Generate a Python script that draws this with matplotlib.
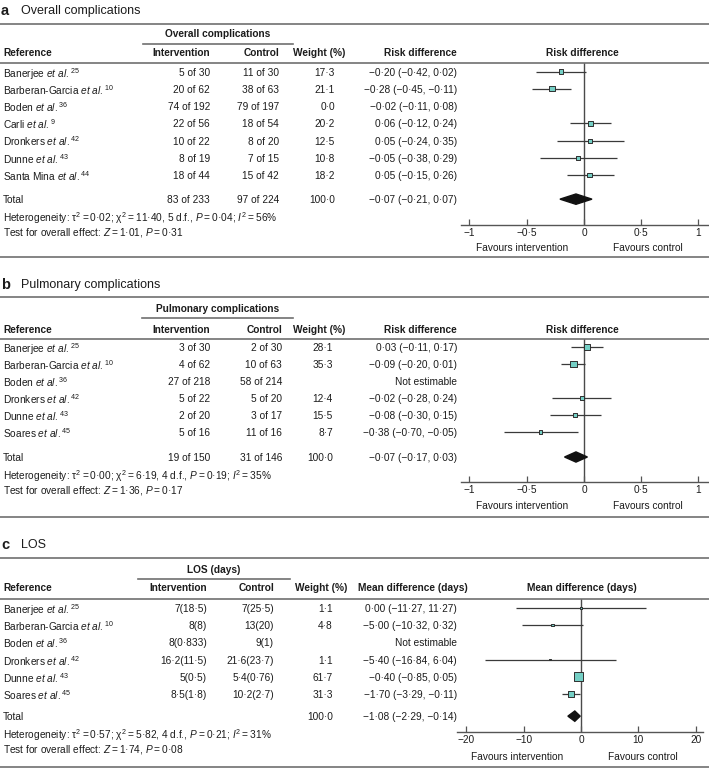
import numpy as np
import matplotlib
matplotlib.use("Agg")
import matplotlib.pyplot as plt
import matplotlib.transforms as mtransforms
from matplotlib.lines import Line2D
from matplotlib.ticker import FuncFormatter

plt.rcParams['font.family'] = ['Liberation Sans', 'DejaVu Sans']
plt.rcParams['mathtext.fontset'] = 'custom'
plt.rcParams['mathtext.rm'] = 'Liberation Sans'
plt.rcParams['mathtext.it'] = 'Liberation Sans:italic'
plt.rcParams['mathtext.bf'] = 'Liberation Sans:bold'

# ---- panel a: overall complications ----
a_names = ["Banerjee", "Barberan-Garcia", "Boden", "Carli", "Dronkers", "Dunne", "Santa Mina"]
a_refs = [25, 10, 36, 9, 42, 43, 44]
a_int_events = [5, 20, 74, 22, 10, 8, 18]
a_int_n = [30, 62, 192, 56, 22, 19, 44]
a_ctl_events = [11, 38, 79, 18, 8, 7, 15]
a_ctl_n = [30, 63, 197, 54, 20, 15, 42]
a_weight = [17.3, 21.1, 0.0, 20.2, 12.5, 10.8, 18.2]
a_est = [-0.20, -0.28, -0.02, 0.06, 0.05, -0.05, 0.05]
a_lo = [-0.42, -0.45, -0.11, -0.12, -0.24, -0.38, -0.15]
a_hi = [0.02, -0.11, 0.08, 0.24, 0.35, 0.29, 0.26]
a_total = ("83 of 233", "97 of 224", 100.0, -0.07, -0.21, 0.07)
a_het = "Heterogeneity: τ$^2$\u2009=\u20090·02; χ$^2$\u2009=\u200911·40, 5 d.f., $\\mathit{P}$\u2009=\u20090·04; $\\mathit{I}^2$\u2009=\u200956%"
a_test = "Test for overall effect: $\\mathit{Z}$\u2009=\u20091·01, $\\mathit{P}$\u2009=\u20090·31"
a_ticks = [-1, -0.5, 0, 0.5, 1]

# ---- panel b: pulmonary complications ----
b_names = ["Banerjee", "Barberan-Garcia", "Boden", "Dronkers", "Dunne", "Soares"]
b_refs = [25, 10, 36, 42, 43, 45]
b_int_events = [3, 4, 27, 5, 2, 5]
b_int_n = [30, 62, 218, 22, 20, 16]
b_ctl_events = [2, 10, 58, 5, 3, 11]
b_ctl_n = [30, 63, 214, 20, 17, 16]
b_weight = [28.1, 35.3, np.nan, 12.4, 15.5, 8.7]
b_est = [0.03, -0.09, np.nan, -0.02, -0.08, -0.38]
b_lo = [-0.11, -0.20, np.nan, -0.28, -0.30, -0.70]
b_hi = [0.17, 0.01, np.nan, 0.24, 0.15, -0.05]
b_total = ("19 of 150", "31 of 146", 100.0, -0.07, -0.17, 0.03)
b_het = "Heterogeneity: τ$^2$\u2009=\u20090·00; χ$^2$\u2009=\u20096·19, 4 d.f., $\\mathit{P}$\u2009=\u20090·19; $\\mathit{I}^2$\u2009=\u200935%"
b_test = "Test for overall effect: $\\mathit{Z}$\u2009=\u20091·36, $\\mathit{P}$\u2009=\u20090·17"
b_ticks = [-1, -0.5, 0, 0.5, 1]

# ---- panel c: LOS ----
c_names = ["Banerjee", "Barberan-Garcia", "Boden", "Dronkers", "Dunne", "Soares"]
c_refs = [25, 10, 36, 42, 43, 45]
c_int_mean = [7, 8, 8, 16.2, 5, 8.5]
c_int_sd = [18.5, 8, 0.833, 11.5, 0.5, 1.8]
c_ctl_mean = [7, 13, 9, 21.6, 5.4, 10.2]
c_ctl_sd = [25.5, 20, 1, 23.7, 0.76, 2.7]
c_weight = [1.1, 4.8, np.nan, 1.1, 61.7, 31.3]
c_est = [0.00, -5.00, np.nan, -5.40, -0.40, -1.70]
c_lo = [-11.27, -10.32, np.nan, -16.84, -0.85, -3.29]
c_hi = [11.27, 0.32, np.nan, 6.04, 0.05, -0.11]
c_total = ("", "", 100.0, -1.08, -2.29, -0.14)
c_het = "Heterogeneity: τ$^2$\u2009=\u20090·57; χ$^2$\u2009=\u20095·82, 4 d.f., $\\mathit{P}$\u2009=\u20090·21; $\\mathit{I}^2$\u2009=\u200931%"
c_test = "Test for overall effect: $\\mathit{Z}$\u2009=\u20091·74, $\\mathit{P}$\u2009=\u20090·08"
c_ticks = [-20, -10, 0, 10, 20]

W, H = 709, 768
FS = 7.3
TXT = '#1c1c1c'
RULE = '#707070'
FILL = '#74cfc5'


def dot(s):
    return s.replace('-', '\u2212').replace('.', '·')


def num(v):
    return dot(f"{v:.2f}")


def effect(e, l, h):
    if np.isnan(e):
        return "Not estimable"
    return f"{num(e)} ({num(l)}, {num(h)})"


def fx(x):
    return x / W


def fy(y):
    return 1 - y / H


fig = plt.figure(figsize=(W / 100, H / 100), dpi=100)


def rule(x0, x1, y, lw=1.2):
    fig.add_artist(Line2D([fx(x0), fx(x1)], [fy(y), fy(y)], transform=fig.transFigure,
                          color=RULE, lw=lw))


def panel(letter, title, group, eff_head, forest_head, names, refs, int_col, ctl_col,
          weight, est, lo, hi, total, het, test, ticks, lay):
    n = len(names)
    rows = np.arange(n)
    ytot = n - 1 + lay['tot_gap']
    # title and rules
    fig.text(fx(1), fy(lay['title']), letter, fontsize=10.5, fontweight='bold', color=TXT,
             va='center', ha='left')
    fig.text(fx(21), fy(lay['title']), title, fontsize=9, color=TXT, va='center', ha='left')
    rule(0, W, lay['top'])
    rule(lay['ul'][0], lay['ul'][1], lay['ul_y'])
    rule(0, W, lay['hdr_rule'])
    rule(0, W, lay['bottom'])
    cx = lay['cols']
    fig.text(fx((lay['ul'][0] + lay['ul'][1]) / 2), fy(lay['grp']), group, fontsize=FS,
             fontweight='bold', color=TXT, ha='center', va='center')
    hy = fy(lay['hdr'])
    fig.text(fx(3), hy, "Reference", fontsize=FS, fontweight='bold', color=TXT, va='center')
    fig.text(fx(cx['int']), hy, "Intervention", fontsize=FS, fontweight='bold', color=TXT,
             va='center', ha='right')
    fig.text(fx(cx['ctl']), hy, "Control", fontsize=FS, fontweight='bold', color=TXT,
             va='center', ha='right')
    fig.text(fx(cx['wh']), hy, "Weight (%)", fontsize=FS, fontweight='bold', color=TXT,
             va='center', ha='right')
    if lay.get('eff_left'):
        fig.text(fx(lay['eff_left']), hy, eff_head, fontsize=FS, fontweight='bold', color=TXT,
                 va='center', ha='left')
    else:
        fig.text(fx(cx['eff']), hy, eff_head, fontsize=FS, fontweight='bold', color=TXT,
                 va='center', ha='right')
    fig.text(fx(582), hy, forest_head, fontsize=FS, fontweight='bold', color=TXT,
             va='center', ha='center')

    # forest axes
    x0, x1 = lay['ax_x']
    y0, y1 = lay['ax_y']
    ax = fig.add_axes([fx(x0), fy(y1), fx(x1) - fx(x0), (y1 - y0) / H])
    ax.set_xlim(lay['xlim'])
    ax.set_ylim(lay['ylim'])
    ax.patch.set_alpha(0)
    for s in ['left', 'right', 'top']:
        ax.spines[s].set_visible(False)
    ax.spines['bottom'].set_color('#555555')
    ax.spines['bottom'].set_linewidth(1.0)
    ax.set_yticks([])
    ax.set_xticks(ticks)
    ax.xaxis.set_major_formatter(FuncFormatter(lambda v, p: dot(f"{v:g}")))
    ax.tick_params(axis='x', direction='in', length=4, width=0.9, color='#555555',
                   labelsize=FS, labelcolor=TXT, pad=2)
    ax.axvline(0, color='#4a4a4a', lw=1.0, zorder=1)

    w = np.array(weight, dtype=float)
    e = np.array(est, dtype=float)
    l = np.array(lo, dtype=float)
    h = np.array(hi, dtype=float)
    ok = w > 0
    ax.hlines(rows[ok], l[ok], h[ok], color='#3a3a3a', lw=0.9, zorder=2)
    side = np.maximum(1.15 * np.sqrt(w[ok]), 1.3) * 0.72
    ax.scatter(e[ok], rows[ok], s=side ** 2, marker='s', facecolor=FILL,
               edgecolor='#2f2f2f', linewidths=0.7, zorder=3)
    te, tl, th = total[3], total[4], total[5]
    ax.fill([tl, te, th, te], [ytot, ytot - 0.3, ytot, ytot + 0.3], color='#111111',
            zorder=3)
    ax.annotate("Favours intervention", xy=(lay['fav'][0], 0), xycoords=('data', 'axes fraction'),
                xytext=(0, -lay['fav_dy'] * 0.72), textcoords='offset points',
                ha='center', va='center', fontsize=FS, color=TXT)
    ax.annotate("Favours control", xy=(lay['fav'][1], 0), xycoords=('data', 'axes fraction'),
                xytext=(0, -lay['fav_dy'] * 0.72), textcoords='offset points',
                ha='center', va='center', fontsize=FS, color=TXT)

    # table rows, y through the forest axes' scale
    tr = mtransforms.blended_transform_factory(fig.transFigure, ax.transData)
    kw = dict(transform=tr, fontsize=FS, color=TXT, va='center_baseline')
    for i in range(n):
        ax.text(fx(3), rows[i], f"{names[i]} $\\mathit{{et\\ al.}}^{{{refs[i]}}}$",
                ha='left', **kw)
        ax.text(fx(cx['int']), rows[i], int_col[i], ha='right', **kw)
        ax.text(fx(cx['ctl']), rows[i], ctl_col[i], ha='right', **kw)
        wt = "" if np.isnan(w[i]) else dot(f"{w[i]:.1f}")
        ax.text(fx(cx['wt']), rows[i], wt, ha='right', **kw)
        ax.text(fx(cx['eff']), rows[i], effect(e[i], l[i], h[i]), ha='right', **kw)
    ax.text(fx(3), ytot, "Total", ha='left', **kw)
    ax.text(fx(cx['int']), ytot, total[0], ha='right', **kw)
    ax.text(fx(cx['ctl']), ytot, total[1], ha='right', **kw)
    ax.text(fx(cx['wt']), ytot, dot(f"{total[2]:.1f}"), ha='right', **kw)
    ax.text(fx(cx['eff']), ytot, effect(te, tl, th), ha='right', **kw)
    ax.text(fx(3), ytot + 1.0, het, ha='left', **kw)
    ax.text(fx(3), ytot + 1.85, test, ha='left', **kw)


def fmt_of(ev, nn):
    return [f"{a} of {b}" for a, b in zip(ev, nn)]


def fmt_msd(m, sd):
    return [dot(f"{a:g}({b:g})") for a, b in zip(m, sd)]


lay_a = dict(title=11, top=24, grp=34, ul=(143, 293), ul_y=44, hdr=53, hdr_rule=63,
             bottom=257, ax_x=(461, 708), ax_y=(63, 225), xlim=(-1.074, 1.083),
             ylim=(8.9, -0.5), tot_gap=1.4, fav=(-0.54, 0.56), fav_dy=23,
             cols=dict(int=210, ctl=279, wt=335, wh=345, eff=457))
lay_b = dict(title=285, top=297, grp=309, ul=(142, 293), ul_y=318, hdr=330, hdr_rule=339,
             bottom=517, ax_x=(461, 708), ax_y=(339, 482), xlim=(-1.074, 1.083),
             ylim=(7.94, -0.47), tot_gap=1.47, fav=(-0.54, 0.56), fav_dy=24,
             cols=dict(int=210, ctl=282, wt=333, wh=345, eff=457))
lay_c = dict(title=545, top=558, grp=570, ul=(138, 290), ul_y=579, hdr=588, hdr_rule=599,
             bottom=767, ax_x=(457, 703), ax_y=(599, 732), xlim=(-21.64, 21.29),
             ylim=(7.2, -0.52), tot_gap=1.28, fav=(-11.2, 10.8), fav_dy=25,
             cols=dict(int=207, ctl=274, wt=333, wh=347, eff=457), eff_left=358)

panel("a", "Overall complications", "Overall complications", "Risk difference",
      "Risk difference", a_names, a_refs, fmt_of(a_int_events, a_int_n),
      fmt_of(a_ctl_events, a_ctl_n), a_weight, a_est, a_lo, a_hi, a_total, a_het, a_test,
      a_ticks, lay_a)
panel("b", "Pulmonary complications", "Pulmonary complications", "Risk difference",
      "Risk difference", b_names, b_refs, fmt_of(b_int_events, b_int_n),
      fmt_of(b_ctl_events, b_ctl_n), b_weight, b_est, b_lo, b_hi, b_total, b_het, b_test,
      b_ticks, lay_b)
panel("c", "LOS", "LOS (days)", "Mean difference (days)", "Mean difference (days)",
      c_names, c_refs, fmt_msd(c_int_mean, c_int_sd), fmt_msd(c_ctl_mean, c_ctl_sd),
      c_weight, c_est, c_lo, c_hi, c_total, c_het, c_test, c_ticks, lay_c)

fig.savefig("out.png", dpi=100, facecolor='white')
